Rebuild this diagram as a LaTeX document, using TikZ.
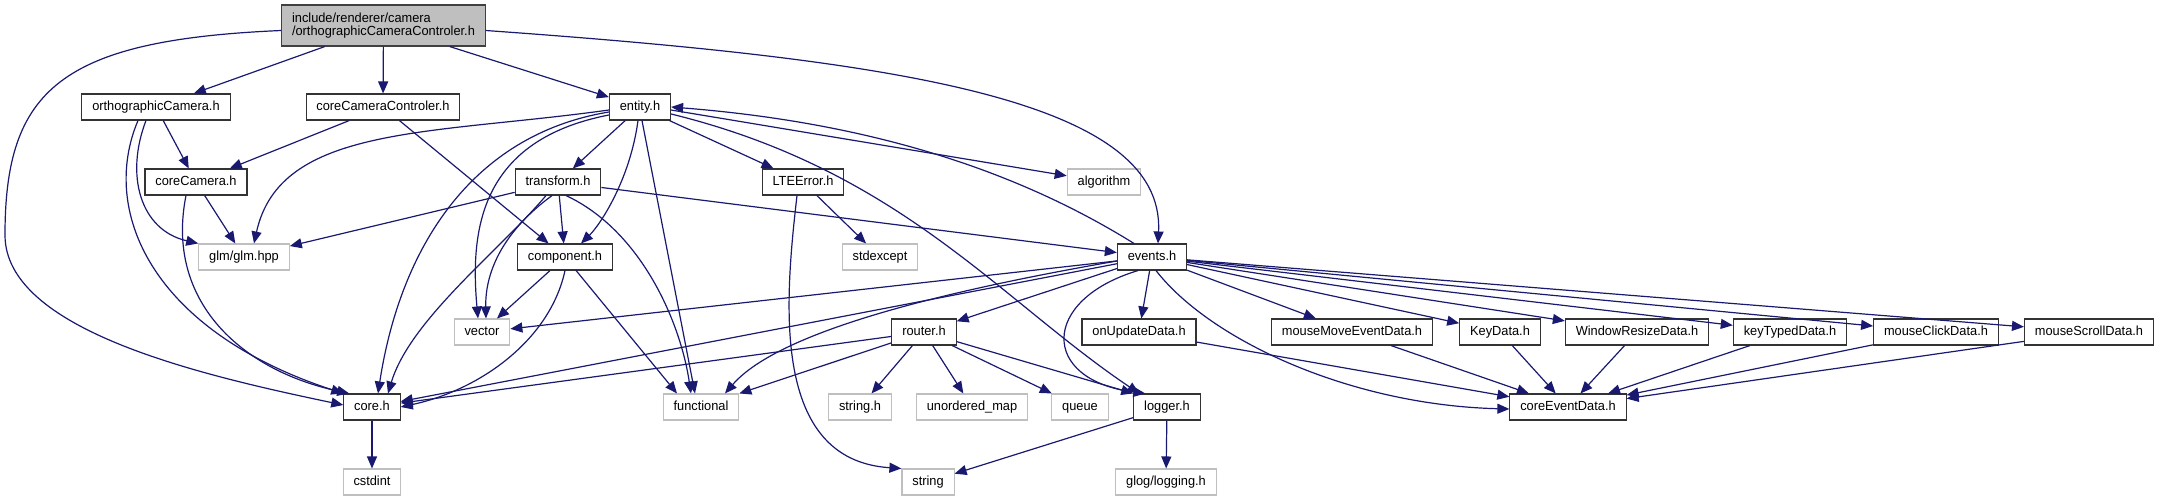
\documentclass[tikz,border=0pt]{standalone}
\usepackage{fontspec}
\setmainfont{Liberation Sans}[FakeStretch=0.97]
\usetikzlibrary{arrows.meta}
\definecolor{edgeblue}{HTML}{191970}
\definecolor{hdrgray}{HTML}{BFBFBF}
\definecolor{extgray}{HTML}{BFBFBF}

\begin{document}
\begin{tikzpicture}[x=0.5pt, y=-0.5pt, font=\fontsize{6.6}{6.4}\selectfont,
    filebox/.style={draw, line width=0.55pt, inner xsep=5.2pt, inner ysep=0pt, minimum height=13pt},
    inc/.style={filebox, draw=black!80, fill=white, text height=4.8pt, text depth=1.4pt},
    ext/.style={filebox, draw=extgray, fill=white, text height=4.8pt, text depth=1.4pt},
    hdr/.style={filebox, draw=black!75, fill=hdrgray, align=left, minimum height=20.5pt},
    dep/.style={draw=edgeblue, line width=0.6pt, ->, >={Triangle[length=6pt,width=5pt]}}]
    \useasboundingbox (0,0) rectangle (2160,500);

    \node[hdr] (top) at (383.5,25.5) {include/renderer/camera\\/orthographicCameraControler.h};
    \node[inc] (ocam) at (156,107) {orthographicCamera.h};
    \node[inc] (ccc) at (383,107) {coreCameraControler.h};
    \node[inc] (entity) at (640,107) {entity.h};
    \node[inc] (ccam) at (196,182) {coreCamera.h};
    \node[inc] (transform) at (558,182) {transform.h};
    \node[inc] (lte) at (803,182) {LTEError.h};
    \node[ext] (algorithm) at (1104,182) {algorithm};
    \node[ext] (glm) at (244,257) {glm/glm.hpp};
    \node[inc] (component) at (565,257) {component.h};
    \node[ext] (stdexcept) at (880,257) {stdexcept};
    \node[inc] (events) at (1152,257) {events.h};
    \node[ext] (vector) at (482,332) {vector};
    \node[inc] (router) at (924,332) {router.h};
    \node[inc] (onupdate) at (1139,332) {onUpdateData.h};
    \node[inc] (mousemove) at (1352,332) {mouseMoveEventData.h};
    \node[inc] (keydata) at (1500,332) {KeyData.h};
    \node[inc] (winresize) at (1637,332) {WindowResizeData.h};
    \node[inc] (keytyped) at (1790,332) {keyTypedData.h};
    \node[inc] (mouseclick) at (1936,332) {mouseClickData.h};
    \node[inc] (mousescroll) at (2089,332) {mouseScrollData.h};
    \node[inc] (core) at (372,407) {core.h};
    \node[ext] (functional) at (701,407) {functional};
    \node[ext] (stringh) at (860,407) {string.h};
    \node[ext] (umap) at (972,407) {unordered\_map};
    \node[ext] (queue) at (1080,407) {queue};
    \node[inc] (logger) at (1167,407) {logger.h};
    \node[inc] (coreevent) at (1568,407) {coreEventData.h};
    \node[ext] (cstdint) at (372,482) {cstdint};
    \node[ext] (string) at (928,482) {string};
    \node[ext] (glog) at (1166,482) {glog/logging.h};

    \draw[dep] ([yshift=-2.5pt]top.west) .. controls (60,40) and (5,90) .. (5,235) .. controls (5,330) and (200,375) .. ([yshift=1pt]core.west);
    \draw[dep] (top) -- (ocam);
    \draw[dep] (top) -- (ccc);
    \draw[dep] (top) -- (entity);
    \draw[dep] ([yshift=-2.5pt]top.east) .. controls (900,60) and (1165,100) .. ([xshift=3pt]events.north);

    \draw[dep] (ocam) -- (ccam);
    \draw[dep] ([xshift=-5pt]ocam.south) .. controls (125,175) and (140,230) .. (glm.north west);
    \draw[dep] ([xshift=-9pt]ocam.south) .. controls (100,210) and (150,330) .. (core.north west);
    \draw[dep] (ccc) -- (ccam);
    \draw[dep] (ccc) -- (component);
    \draw[dep] (ccam) -- (glm);
    \draw[dep] ([xshift=-5pt]ccam.south) .. controls (165,300) and (240,370) .. ([xshift=3pt]core.north west);

    \draw[dep] ([yshift=-1.5pt]entity.west) .. controls (430,135) and (280,125) .. ([xshift=5pt]glm.north);
    \draw[dep] ([yshift=-2.5pt]entity.west) .. controls (470,135) and (400,250) .. ([xshift=3pt]core.north);
    \draw[dep] ([yshift=-4pt]entity.west) .. controls (480,140) and (470,230) .. ([xshift=-2pt]vector.north);
    \draw[dep] (entity) -- (transform);
    \draw[dep] ([xshift=-1pt]entity.south) .. controls (630,180) and (600,225) .. ([xshift=8pt]component.north);
    \draw[dep] ([xshift=1pt]entity.south) -- ([xshift=-3pt]functional.north);
    \draw[dep] (entity) -- (lte);
    \draw[dep] ([yshift=-1.5pt]entity.east) -- (algorithm);
    \draw[dep] ([yshift=-3.5pt]entity.east) .. controls (900,170) and (1000,300) .. ([xshift=3pt]logger.north west);

    \draw[dep] (transform) -- (glm);
    \draw[dep] (transform) -- (component);
    \draw[dep] ([xshift=-6pt]transform.south) .. controls (500,250) and (410,320) .. ([xshift=8pt]core.north);
    \draw[dep] ([xshift=-3pt]transform.south) .. controls (505,230) and (485,270) .. ([xshift=2pt]vector.north);
    \draw[dep] ([xshift=4pt]transform.south) .. controls (640,230) and (680,320) .. ([xshift=-5pt]functional.north);
    \draw[dep] (transform) -- (events);

    \draw[dep] (component) -- (vector);
    \draw[dep] (component.south) .. controls (550,340) and (480,390) .. (core.east);
    \draw[dep] (component) -- ([xshift=-12pt]functional.north);
    \draw[dep] (lte) -- (stdexcept);
    \draw[dep] ([xshift=-3pt]lte.south) .. controls (785,300) and (770,460) .. (string.north west);

    \draw[dep] ([xshift=-9pt]events.north) .. controls (1040,185) and (900,125) .. (entity.east);
    \draw[dep] (events) -- (vector);
    \draw[dep] (events) -- (core);
    \draw[dep] ([yshift=-2pt]events.west) .. controls (950,290) and (780,330) .. ([xshift=12pt]functional.north);
    \draw[dep] (events) -- (router);
    \draw[dep] ([xshift=-7pt]events.south) .. controls (1040,300) and (1040,380) .. ([xshift=6pt]logger.north west);
    \draw[dep] (events) -- (onupdate);
    \draw[dep] ([xshift=2pt]events.south) .. controls (1210,340) and (1350,405) .. ([yshift=-1pt]coreevent.west);
    \draw[dep] (events) -- (mousemove);
    \draw[dep] (events) -- (keydata);
    \draw[dep] (events) -- (winresize);
    \draw[dep] (events) -- (keytyped);
    \draw[dep] (events) -- (mouseclick);
    \draw[dep] (events) -- (mousescroll);

    \draw[dep] (router) -- (core);
    \draw[dep] (router) -- (functional.north east);
    \draw[dep] (router) -- (stringh);
    \draw[dep] (router) -- (umap);
    \draw[dep] (router) -- (queue);
    \draw[dep] (router) -- (logger.north west);
    \draw[dep] (logger) -- (string);
    \draw[dep] (logger) -- (glog);
    \draw[dep] (core) -- (cstdint);

    \draw[dep] (onupdate) -- (coreevent);
    \draw[dep] (mousemove) -- (coreevent);
    \draw[dep] (keydata) -- (coreevent);
    \draw[dep] (winresize) -- (coreevent);
    \draw[dep] (keytyped) -- (coreevent);
    \draw[dep] (mouseclick) -- (coreevent);
    \draw[dep] (mousescroll) -- (coreevent);
\end{tikzpicture}
\end{document}
